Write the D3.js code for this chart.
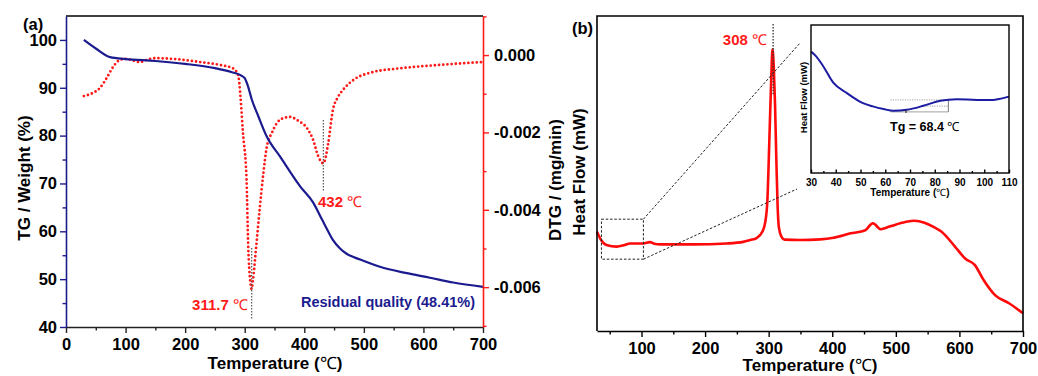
<!DOCTYPE html>
<html>
<head>
<meta charset="utf-8">
<script src="https://cdn.jsdelivr.net/npm/d3@7"></script>
<style>
  body { margin: 0; background: #fff; }
  svg { display: block; }
  text { font-family: Arial, "Liberation Sans", sans-serif; }
</style>
</head>
<body>
<div id="chart"></div>
<script>
// ---- data ----

// (a) TG curve
const tgTemp   = [30, 50, 74, 100, 150, 200, 250, 280, 292, 300, 305, 312, 323, 337, 360, 393, 415, 430, 440, 448, 460, 471, 485, 500, 527, 570, 611, 650, 700];
const tgWeight = [100, 98.2, 96.4, 96, 95.6, 95, 94.1, 93.2, 92.7, 92, 90.5, 87.5, 84, 79.8, 75.5, 69.4, 66, 62.4, 60, 58.2, 56.4, 55.3, 54.5, 53.8, 52.6, 51.3, 50.3, 49.3, 48.4];

// (a) DTG curve (mg/min)
const dtgTemp = [30, 45, 57, 68, 79, 90, 100, 124, 140, 152, 180, 225, 260, 280, 289, 293, 297, 303, 306, 309, 311.7, 314, 319, 325, 331, 337, 346, 354, 365, 376, 390, 405, 415, 423, 432, 440, 448, 456, 465, 482, 515, 550, 582, 640, 700];
const dtgRate = [-0.00106, -0.00098, -0.00085, -0.0006, -0.00031, -0.00013, -0.0001, -0.00018, -0.0001, -0.00008, -0.0001, -0.00018, -0.00026, -0.00034, -0.00052, -0.0011, -0.002, -0.0032, -0.005, -0.0058, -0.00605, -0.0058, -0.005, -0.004, -0.0031, -0.00238, -0.002, -0.00176, -0.00163, -0.0016, -0.0017, -0.0019, -0.0022, -0.0026, -0.0028, -0.0023, -0.00142, -0.0011, -0.0009, -0.00065, -0.00044, -0.00036, -0.00031, -0.00024, -0.00018];

// (b) DSC curve (arbitrary heat flow units)
const dscTemp = [30, 36, 45, 61, 72, 82, 103, 113, 122, 129, 181, 234, 260, 271, 281, 290, 295, 298, 301, 304, 306, 308, 310, 312, 314, 316, 320, 325, 349, 381, 402, 429, 452, 460, 464, 468, 476, 485, 497, 515, 529, 545, 560, 572, 593, 609, 624, 638, 656, 678, 700];
const dscHeat = [31.5, 29, 27.3, 26.8, 27.2, 27.8, 27.8, 28.2, 27.6, 27.5, 27.5, 27.8, 28.3, 28.9, 29.5, 31.5, 35, 41.6, 60, 80, 89.4, 84, 72, 55, 40, 33, 30, 29, 28.9, 29.1, 29.6, 31, 32, 33.7, 34.2, 33.7, 32.3, 32.8, 33.6, 34.6, 35, 34.4, 33, 31.5, 26.8, 23, 21, 16.2, 11.4, 8.8, 5.6];

// (b) inset, glass transition region
const insetTemp = [30, 32, 35, 39, 44.5, 51, 55, 59.3, 63.3, 68.7, 75.4, 82.2, 88.9, 97, 103.6, 106, 110];
const insetHeat = [82, 79, 72, 61, 54, 47.2, 45, 43.2, 42, 42.7, 45.4, 48.8, 49.9, 49.4, 49.4, 50, 51.6];

// tick values
const xTicksA = [0, 100, 200, 300, 400, 500, 600, 700];
const xMinorA = [50, 150, 250, 350, 450, 550, 650];
const tgTicks = [40, 50, 60, 70, 80, 90, 100];
const tgMinor = [45, 55, 65, 75, 85, 95];
const dtgTicks = [0, -0.002, -0.004, -0.006];
const dtgMinor = [0.001, -0.001, -0.003, -0.005, -0.007];
const xTicksB = [100, 200, 300, 400, 500, 600, 700];
const xMinorB = [50, 150, 250, 350, 450, 550, 650];
const insetTicks = [30, 40, 50, 60, 70, 80, 90, 100, 110];
const insetMinor = [35, 45, 55, 65, 75, 85, 95, 105];

// annotations
const peakA1 = 311.7, peakA2 = 432, peakB = 307, tgValue = 68.4;

const navy = '#1b1b8f';
const red = '#ff1a1a';

const svg = d3.select('#chart').append('svg')
  .attr('width', 1038)
  .attr('height', 376);

function label(g, x, y, parts, opts = {}) {
  const t = g.append('text')
    .attr('x', x).attr('y', y)
    .attr('text-anchor', opts.anchor || 'start')
    .style('font-size', (opts.size || 16) + 'px')
    .style('font-weight', 'bold')
    .style('fill', opts.fill || '#000');
  if (opts.rotate) t.attr('transform', `rotate(-90,${x},${y})`);
  parts.forEach(p => {
    const s = t.append('tspan').text(p.t !== undefined ? p.t : p);
    if (p.normal) s.style('font-weight', 'normal');
  });
  return t;
}

function styleAxis(g, color, size) {
  g.select('.domain').attr('stroke', color).attr('stroke-width', 1.6);
  g.selectAll('.tick line').attr('stroke', color).attr('stroke-width', 1.4);
  g.selectAll('.tick text')
    .style('font-size', size + 'px')
    .style('font-weight', 'bold')
    .style('fill', '#000')
    .style('font-family', 'Arial, "Liberation Sans", sans-serif');
}

// =============== panel (a) ===============
const A = {left: 66, right: 483, top: 16, bottom: 327};
const xA = d3.scaleLinear().domain([0, 700]).range([A.left, A.right]);
const yTG = d3.scaleLinear().domain([40, 105]).range([A.bottom, A.top]);
const yDTG = d3.scaleLinear().domain([-0.00703, 0.00101]).range([A.bottom, A.top]);

const ga = svg.append('g').attr('id', 'panel-a');

// DTG dotted
ga.append('path')
  .attr('d', d3.line().x(d => xA(d[0])).y(d => yDTG(d[1])).curve(d3.curveMonotoneX)(dtgTemp.map((t, i) => [t, dtgRate[i]])))
  .attr('fill', 'none')
  .attr('stroke', red)
  .attr('stroke-width', 2.8)
  .attr('stroke-linecap', 'round')
  .attr('stroke-dasharray', '0 4.2');

// TG solid
ga.append('path')
  .attr('d', d3.line().x(d => xA(d[0])).y(d => yTG(d[1])).curve(d3.curveMonotoneX)(tgTemp.map((t, i) => [t, tgWeight[i]])))
  .attr('fill', 'none')
  .attr('stroke', navy)
  .attr('stroke-width', 2.2);

// peak markers
ga.append('line')
  .attr('x1', xA(peakA1)).attr('x2', xA(peakA1))
  .attr('y1', yDTG(-0.00499)).attr('y2', yDTG(-0.00685))
  .attr('stroke', '#555').attr('stroke-width', 1.2).attr('stroke-dasharray', '1.5 1.5');
ga.append('line')
  .attr('x1', xA(peakA2)).attr('x2', xA(peakA2))
  .attr('y1', yDTG(-0.00168)).attr('y2', yDTG(-0.0035))
  .attr('stroke', '#555').attr('stroke-width', 1.2).attr('stroke-dasharray', '1.5 1.5');

// frame top
ga.append('line')
  .attr('x1', A.left).attr('x2', A.right).attr('y1', A.top).attr('y2', A.top)
  .attr('stroke', '#000').attr('stroke-width', 1.6);

// axes
const axA = ga.append('g').attr('transform', `translate(0,${A.bottom})`)
  .call(d3.axisBottom(xA).tickValues(xTicksA).tickSize(6).tickPadding(5).tickSizeOuter(0));
styleAxis(axA, '#222', 16.5);
const axAm = ga.append('g').attr('transform', `translate(0,${A.bottom})`)
  .call(d3.axisBottom(xA).tickValues(xMinorA).tickSize(3.5).tickFormat(''));
axAm.select('.domain').remove();
styleAxis(axAm, '#222', 16.5);

const ayL = ga.append('g').attr('transform', `translate(${A.left},0)`)
  .call(d3.axisLeft(yTG).tickValues(tgTicks).tickSize(6).tickPadding(3).tickSizeOuter(0));
styleAxis(ayL, navy, 16.5);
const ayLm = ga.append('g').attr('transform', `translate(${A.left},0)`)
  .call(d3.axisLeft(yTG).tickValues(tgMinor).tickSize(3.5).tickFormat(''));
ayLm.select('.domain').remove();
styleAxis(ayLm, navy, 16.5);

const ayR = ga.append('g').attr('transform', `translate(${A.right},0)`)
  .call(d3.axisRight(yDTG).tickValues(dtgTicks).tickSize(6).tickPadding(5).tickSizeOuter(0)
    .tickFormat(d => d3.format('.3f')(d).replace('−', '-')));
styleAxis(ayR, red, 16.5);
const ayRm = ga.append('g').attr('transform', `translate(${A.right},0)`)
  .call(d3.axisRight(yDTG).tickValues(dtgMinor).tickSize(3.5).tickFormat(''));
ayRm.select('.domain').remove();
styleAxis(ayRm, red, 16.5);

// titles
label(ga, 275, 369, ['Temperature (', {t: '℃', normal: true}, ')'], {anchor: 'middle', size: 17});
label(ga, 30, 178, ['TG / Weight (%)'], {anchor: 'middle', size: 17, rotate: true});
label(ga, 561, 180, ['DTG / (mg/min)'], {anchor: 'middle', size: 17, rotate: true});
label(ga, 23, 30, ['(a)'], {size: 16.5});
label(ga, 248, 310, ['311.7 ', {t: '℃', normal: true}], {anchor: 'end', size: 15, fill: red});
label(ga, 318, 207, ['432 ', {t: '℃', normal: true}], {size: 15, fill: red});
label(ga, 475, 307, ['Residual quality (48.41%)'], {anchor: 'end', size: 14.5, fill: navy});

// =============== panel (b) ===============
const B = {left: 597, right: 1023, top: 16, bottom: 331};
const xB = d3.scaleLinear().domain([30, 700]).range([B.left, B.right]);
const yB = d3.scaleLinear().domain([0, 100]).range([B.bottom, B.top]);

const gb = svg.append('g').attr('id', 'panel-b');

gb.append('path')
  .attr('d', d3.line().x(d => xB(d[0])).y(d => yB(d[1])).curve(d3.curveMonotoneX)(dscTemp.map((t, i) => [t, dscHeat[i]])))
  .attr('fill', 'none')
  .attr('stroke', '#ff0a0a')
  .attr('stroke-width', 2.6);

// zoom box and connectors
const boxT = [37, 103], boxH = [22.8, 35.5];
gb.append('rect')
  .attr('x', xB(boxT[0])).attr('y', yB(boxH[1]))
  .attr('width', xB(boxT[1]) - xB(boxT[0]))
  .attr('height', yB(boxH[0]) - yB(boxH[1]))
  .attr('fill', 'none').attr('stroke', '#222').attr('stroke-width', 1)
  .attr('stroke-dasharray', '2.5 1.8');

// inset geometry
const I = {left: 811, right: 1009, top: 25, bottom: 173};
gb.append('line')
  .attr('x1', xB(boxT[1])).attr('y1', yB(boxH[1]))
  .attr('x2', I.left - 11).attr('y2', I.top + 18)
  .attr('stroke', '#222').attr('stroke-width', 1).attr('stroke-dasharray', '2.5 1.8');
gb.append('line')
  .attr('x1', xB(boxT[1])).attr('y1', yB(boxH[0]))
  .attr('x2', I.left - 14).attr('y2', I.bottom + 16)
  .attr('stroke', '#222').attr('stroke-width', 1).attr('stroke-dasharray', '2.5 1.8');

// peak marker
gb.append('line')
  .attr('x1', xB(peakB)).attr('x2', xB(peakB))
  .attr('y1', yB(97.5)).attr('y2', yB(75))
  .attr('stroke', '#333').attr('stroke-width', 1.3).attr('stroke-dasharray', '1.5 1.5');
label(gb, 767, 45, ['308 ', {t: '℃', normal: true}], {anchor: 'end', size: 15, fill: red});

// frame
gb.append('path')
  .attr('d', `M${B.left},${B.bottom}V${B.top}H${B.right}V${B.bottom}`)
  .attr('fill', 'none').attr('stroke', '#000').attr('stroke-width', 1.6);

const axB = gb.append('g').attr('transform', `translate(0,${B.bottom})`)
  .call(d3.axisBottom(xB).tickValues(xTicksB).tickSize(6).tickPadding(5).tickSizeOuter(0));
styleAxis(axB, '#000', 16.5);
const axBm = gb.append('g').attr('transform', `translate(0,${B.bottom})`)
  .call(d3.axisBottom(xB).tickValues(xMinorB).tickSize(3.5).tickFormat(''));
axBm.select('.domain').remove();
styleAxis(axBm, '#000', 16.5);

label(gb, 810, 371, ['Temperature (', {t: '℃', normal: true}, ')'], {anchor: 'middle', size: 17});
label(gb, 585, 172, ['Heat Flow (mW)'], {anchor: 'middle', size: 17, rotate: true});
label(gb, 572, 34, ['(b)'], {size: 16.5});

// ---- inset ----
const xI = d3.scaleLinear().domain([30, 110]).range([I.left, I.right]);
const yI = d3.scaleLinear().domain([0, 100]).range([I.bottom, I.top]);
const gi = gb.append('g').attr('id', 'inset');

gi.append('rect')
  .attr('x', I.left).attr('y', I.top)
  .attr('width', I.right - I.left).attr('height', I.bottom - I.top)
  .attr('fill', '#fff');

// Tg construction lines
const tgLines = [
  {x1: 62.1, x2: 85.5, y: 49.4, dash: '1.2 1.2'},
  {x1: 75, x2: 85.5, y: 45.2, dash: '1.2 1.2'},
  {x1: 62.1, x2: 85.5, y: 41.3, dash: null}
];
tgLines.forEach(l => {
  gi.append('line')
    .attr('x1', xI(l.x1)).attr('x2', xI(l.x2))
    .attr('y1', yI(l.y)).attr('y2', yI(l.y))
    .attr('stroke', '#888').attr('stroke-width', 0.8)
    .attr('stroke-dasharray', l.dash);
});
gi.append('line')
  .attr('x1', xI(85.5)).attr('x2', xI(85.5))
  .attr('y1', yI(49.4)).attr('y2', yI(41.3))
  .attr('stroke', '#666').attr('stroke-width', 0.9);

gi.append('path')
  .attr('d', d3.line().x(d => xI(d[0])).y(d => yI(d[1])).curve(d3.curveMonotoneX)(insetTemp.map((t, i) => [t, insetHeat[i]])))
  .attr('fill', 'none')
  .attr('stroke', '#1c1ca3')
  .attr('stroke-width', 2);

// small Tg mark
gi.append('line')
  .attr('x1', xI(tgValue)).attr('x2', xI(tgValue))
  .attr('y1', yI(41.3) - 2).attr('y2', yI(41.3) + 1)
  .attr('stroke', '#333').attr('stroke-width', 1.2);

gi.append('rect')
  .attr('x', I.left).attr('y', I.top)
  .attr('width', I.right - I.left).attr('height', I.bottom - I.top)
  .attr('fill', 'none').attr('stroke', '#000').attr('stroke-width', 1.4);

const axI = gi.append('g').attr('transform', `translate(0,${I.bottom})`)
  .call(d3.axisBottom(xI).tickValues(insetTicks).tickSizeInner(-3.5).tickSizeOuter(0).tickPadding(5.5));
styleAxis(axI, '#000', 10);
axI.select('.domain').remove();
const axIm = gi.append('g').attr('transform', `translate(0,${I.bottom})`)
  .call(d3.axisBottom(xI).tickValues(insetMinor).tickSizeInner(-2).tickFormat(''));
axIm.select('.domain').remove();
styleAxis(axIm, '#000', 10);

label(gi, 910, 196, ['Temperature (', {t: '℃', normal: true}, ')'], {anchor: 'middle', size: 10});
label(gi, 806.5, 97.5, ['Heat Flow (mW)'], {anchor: 'middle', size: 9.5, rotate: true});
label(gi, 890, 131, ['Tg = 68.4 ', {t: '℃', normal: true}], {size: 12.5});
</script>
</body>
</html>
